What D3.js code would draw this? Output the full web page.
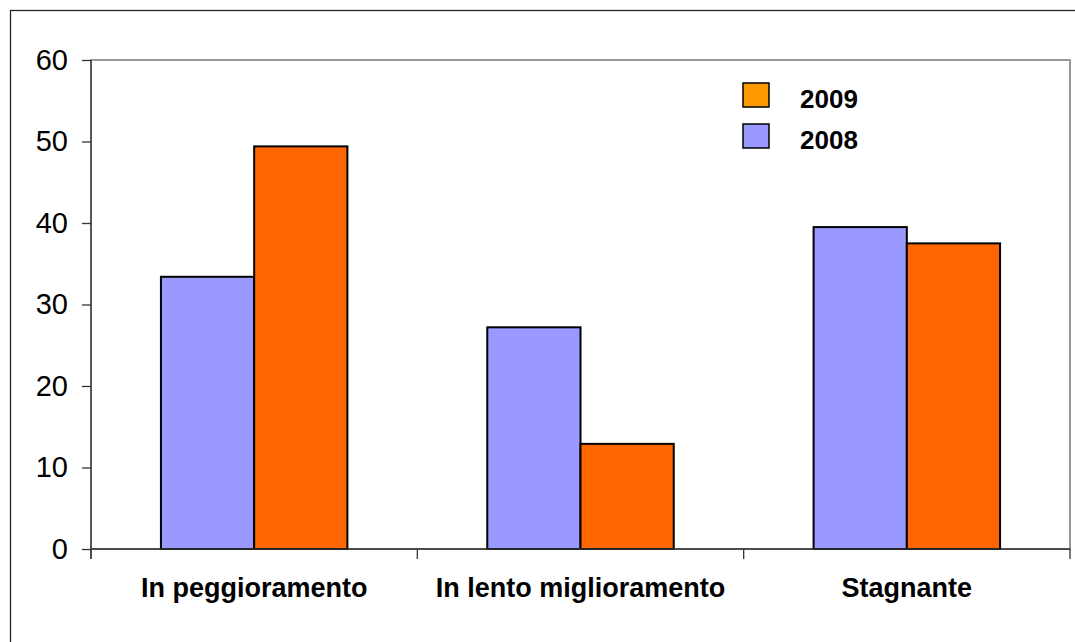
<!DOCTYPE html>
<html>
<head>
<meta charset="utf-8">
<script src="https://cdn.jsdelivr.net/npm/d3@7"></script>
<style>
  html, body { margin: 0; padding: 0; background: #fff; }
  svg { display: block; }
  text { font-family: "Liberation Sans", Arial, sans-serif; }
</style>
</head>
<body>
<svg id="chart" width="1075" height="642"></svg>
<script>
const categories = ["In peggioramento", "In lento miglioramento", "Stagnante"];
const seriesNames = ["2008", "2009"];
const values2008 = [33.4, 27.2, 39.5];
const values2009 = [49.4, 12.9, 37.5];
const yTicks = [0, 10, 20, 30, 40, 50, 60];
const legendOrder = ["2009", "2008"];

const barColors = { "2008": "#9999FF", "2009": "#FF6600" };
const legendColors = { "2008": "#9999FF", "2009": "#FF9900" };

const svg = d3.select("#chart");
const plot = { left: 91, top: 60, right: 1070, bottom: 549 };

// outer chart border
svg.append("rect")
  .attr("x", 10.5).attr("y", 10.5)
  .attr("width", 1100).attr("height", 700)
  .attr("fill", "#fff").attr("stroke", "#222").attr("stroke-width", 1.3);

// plot area border
svg.append("rect")
  .attr("x", plot.left).attr("y", plot.top)
  .attr("width", plot.right - plot.left).attr("height", plot.bottom - plot.top)
  .attr("fill", "#fff").attr("stroke", "#999").attr("stroke-width", 2);

const y = d3.scaleLinear().domain([0, 60]).range([plot.bottom, plot.top]);
const x0 = d3.scaleBand().domain(categories).range([plot.left, plot.right]).padding(0);
const x1 = d3.scaleBand().domain(seriesNames).range([0, x0.bandwidth()])
  .paddingInner(0).paddingOuter(0.75);

const data = categories.map((c, i) => ({
  cat: c,
  vals: [{ s: "2008", v: values2008[i] }, { s: "2009", v: values2009[i] }]
}));

// bars
const g = svg.append("g");
g.selectAll("g.grp").data(data).join("g")
  .attr("class", "grp")
  .attr("transform", d => `translate(${x0(d.cat)},0)`)
  .selectAll("rect").data(d => d.vals).join("rect")
  .attr("x", d => x1(d.s))
  .attr("y", d => y(d.v))
  .attr("width", x1.bandwidth())
  .attr("height", d => y(0) - y(d.v))
  .attr("fill", d => barColors[d.s])
  .attr("stroke", "#000")
  .attr("stroke-width", 2);

// y axis
const yAxis = svg.append("g")
  .attr("transform", `translate(${plot.left},0)`)
  .call(d3.axisLeft(y).tickValues(yTicks).tickSize(9).tickPadding(14).tickFormat(d3.format("d")));
yAxis.select(".domain").attr("stroke", "#333").attr("stroke-width", 1.3)
  .attr("d", `M0,${plot.top}V${plot.bottom + 10}`);
yAxis.selectAll(".tick line").attr("stroke", "#333").attr("stroke-width", 1.3);
yAxis.selectAll(".tick text")
  .attr("font-size", 29).attr("fill", "#000")
  .attr("font-family", "'Liberation Sans', Arial, sans-serif");

// x axis
const xAxis = svg.append("g")
  .attr("transform", `translate(0,${plot.bottom})`);
xAxis.append("line")
  .attr("x1", plot.left).attr("x2", plot.right)
  .attr("stroke", "#333").attr("stroke-width", 1.3);
const boundaries = categories.map(c => x0(c)).concat([x0(categories[categories.length - 1]) + x0.bandwidth()]);
xAxis.selectAll("line.tk").data(boundaries).join("line")
  .attr("class", "tk")
  .attr("x1", d => d).attr("x2", d => d)
  .attr("y1", 0).attr("y2", 10)
  .attr("stroke", "#333").attr("stroke-width", 1.3);
xAxis.selectAll("text").data(categories).join("text")
  .attr("x", d => x0(d) + x0.bandwidth() / 2)
  .attr("y", 48)
  .attr("text-anchor", "middle")
  .attr("font-size", 27)
  .attr("font-weight", "bold")
  .text(d => d);

// legend
const legend = svg.append("g").attr("transform", "translate(743,83)");
const li = legend.selectAll("g").data(legendOrder).join("g")
  .attr("transform", (d, i) => `translate(0,${i * 41})`);
li.append("rect")
  .attr("width", 26).attr("height", 24)
  .attr("fill", d => legendColors[d])
  .attr("stroke", "#000").attr("stroke-width", 1.5);
li.append("text")
  .attr("x", 57).attr("y", 25)
  .attr("font-size", 26)
  .attr("font-weight", "bold")
  .text(d => d);
</script>
</body>
</html>
